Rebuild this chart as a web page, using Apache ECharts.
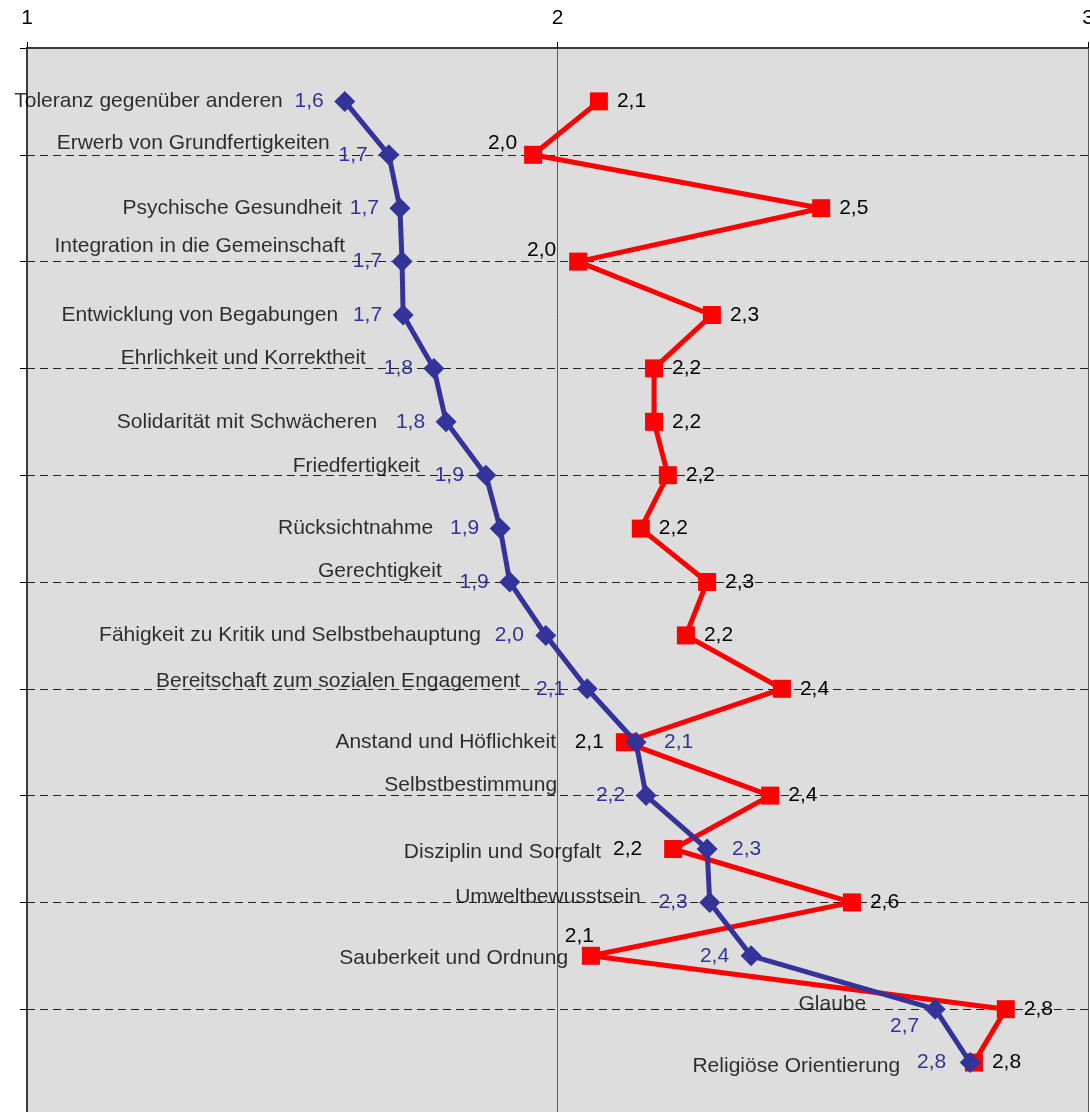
<!DOCTYPE html>
<html>
<head>
<meta charset="utf-8">
<script src="https://cdn.jsdelivr.net/npm/echarts@6/dist/echarts.min.js"></script>
<style>
html,body{margin:0;padding:0;background:#fff;}
#chart{width:1090px;height:1112px;}
</style>
</head>
<body>
<div id="chart"></div>
<script>
// ---- data ----
const categories = [
  'Toleranz gegenüber anderen',
  'Erwerb von Grundfertigkeiten',
  'Psychische Gesundheit',
  'Integration in die Gemeinschaft',
  'Entwicklung von Begabungen',
  'Ehrlichkeit und Korrektheit',
  'Solidarität mit Schwächeren',
  'Friedfertigkeit',
  'Rücksichtnahme',
  'Gerechtigkeit',
  'Fähigkeit zu Kritik und Selbstbehauptung',
  'Bereitschaft zum sozialen Engagement',
  'Anstand und Höflichkeit',
  'Selbstbestimmung',
  'Disziplin und Sorgfalt',
  'Umweltbewusstsein',
  'Sauberkeit und Ordnung',
  'Glaube',
  'Religiöse Orientierung'
];
const blueValues = [1.599, 1.682, 1.703, 1.707, 1.709, 1.767, 1.790, 1.865, 1.892, 1.910,
                    1.978, 2.056, 2.148, 2.167, 2.282, 2.287, 2.365, 2.712, 2.778];
const redValues  = [2.078, 1.954, 2.497, 2.039, 2.291, 2.182, 2.182, 2.208, 2.157, 2.282,
                    2.242, 2.423, 2.127, 2.401, 2.218, 2.555, 2.063, 2.845, 2.785];
const xTickValues = [1, 2, 3];

// ---- label layout (style only): [align, dx, dy] relative to the point ----
const blueLabelLayout = [
  ['right',-21,0],['right',-21,0],['right',-21,0],['right',-20,0],['right',-21,0],
  ['right',-21,0],['right',-21,0],['right',-22,0],['right',-21,0],['right',-21,0],
  ['right',-22,0],['right',-22,0],['left',28,0],['right',-21,0],['left',25,0],
  ['right',-22,0],['right',-22,0],['right',-16,17],['right',-24,0]
];
const redLabelLayout = [
  ['left',18,0],['right',-16,-12],['left',18,0],['right',-22,-11],['left',18,0],
  ['left',18,0],['left',18,0],['left',18,0],['left',18,0],['left',18,0],
  ['left',18,0],['left',18,0],['right',-21,0],['left',18,0],['right',-31,0],
  ['left',18,0],['right',3,-20],['left',18,0],['left',18,0]
];
const nameLabelLayout = [
  [-62,0],[-59,-12],[-58,0],[-57,-15],[-65,0],[-68,-10],[-69,0],[-66,-9],[-67,0],[-68,-11],
  [-65,0],[-67,-8],[-80,0],[-89,-10],[-106,3],[-69,-5],[-183,2],[-69,-5],[-70,4]
];

const FONT = 'Arial, "Liberation Sans", sans-serif';
const FS = 21;
const fmt = v => v.toFixed(1).replace('.', ',');

function valueLabel(layout, color) {
  return {
    show: true,
    position: 'inside',
    align: layout[0],
    verticalAlign: 'middle',
    offset: [layout[1], layout[2]],
    formatter: p => fmt(p.value[0]),
    color: color,
    fontFamily: FONT,
    fontSize: FS
  };
}

const blueData = blueValues.map((v, i) => ({
  value: [v, i + 1],
  label: valueLabel(blueLabelLayout[i], '#333399')
}));
const redData = redValues.map((v, i) => ({
  value: [v, i + 1],
  label: valueLabel(redLabelLayout[i], '#000000')
}));
const nameData = blueValues.map((v, i) => ({
  value: [v, i + 1],
  name: categories[i],
  label: {
    show: true,
    position: 'inside',
    align: 'right',
    verticalAlign: 'middle',
    offset: nameLabelLayout[i],
    formatter: categories[i],
    color: '#000',
    fontFamily: FONT,
    fontSize: FS
  }
}));

const chart = echarts.init(document.getElementById('chart'), null, {renderer: 'canvas'});
chart.setOption({
  backgroundColor: '#ffffff',
  animation: false,
  grid: {
    left: 27, right: 2, top: 48, bottom: -4,
    outerBoundsMode: 'none',
    containLabel: false,
    show: true, backgroundColor: '#dddddd', borderWidth: 0
  },
  xAxis: {
    type: 'value',
    position: 'top',
    min: xTickValues[0],
    max: xTickValues[xTickValues.length - 1],
    interval: 1,
    axisLine: {show: true, lineStyle: {color: '#3a3a3a', width: 2}},
    axisTick: {show: true, length: 6, lineStyle: {color: '#000', width: 1}},
    axisLabel: {
      show: true, color: '#000', fontFamily: FONT, fontSize: FS, margin: 19,
      showMinLabel: true, showMaxLabel: true,
      formatter: v => String(v)
    },
    splitLine: {show: true, lineStyle: {color: '#5a5a5a', width: 1, type: 'solid'}}
  },
  yAxis: {
    type: 'value',
    inverse: true,
    min: 0,
    max: 20,
    interval: 2,
    axisLine: {show: true, lineStyle: {color: '#3a3a3a', width: 2}},
    axisTick: {show: true, length: 7, lineStyle: {color: '#000', width: 1}},
    axisLabel: {show: false},
    splitLine: {show: true, lineStyle: {color: '#222', width: 1, type: [8, 5]}}
  },
  series: [
    {
      name: 'Namen',
      type: 'scatter',
      data: nameData,
      symbol: 'circle',
      symbolSize: 1,
      itemStyle: {color: 'rgba(0,0,0,0)'},
      silent: true,
      z: 1
    },
    {
      name: 'Rot',
      type: 'line',
      data: redData,
      symbol: 'rect',
      symbolSize: 18,
      showAllSymbol: true,
      lineStyle: {color: '#ff0000', width: 5},
      itemStyle: {color: '#ff0000'},
      z: 2
    },
    {
      name: 'Blau',
      type: 'line',
      data: blueData,
      symbol: 'diamond',
      symbolSize: 21,
      showAllSymbol: true,
      lineStyle: {color: '#333399', width: 5},
      itemStyle: {color: '#333399'},
      z: 3
    }
  ]
});
</script>
</body>
</html>
